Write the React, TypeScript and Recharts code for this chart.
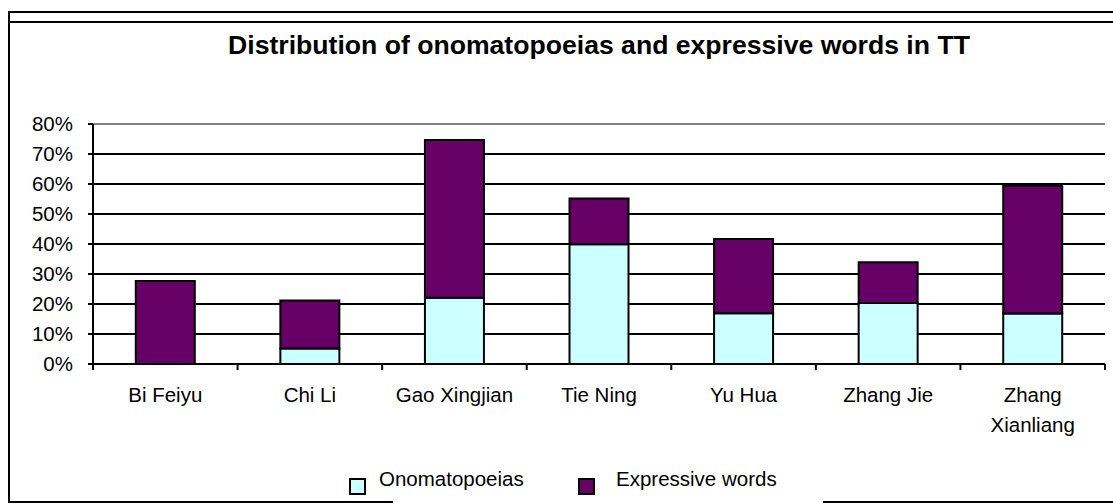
import React from "react";
import {
  BarChart,
  Bar,
  XAxis,
  YAxis,
  CartesianGrid,
  Legend,
  ReferenceLine,
} from "recharts";

const AUTHORS = [
  "Bi Feiyu",
  "Chi Li",
  "Gao Xingjian",
  "Tie Ning",
  "Yu Hua",
  "Zhang Jie",
  "Zhang Xianliang",
];
const ONOMATOPOEIAS = [0, 0.052, 0.221, 0.399, 0.169, 0.203, 0.168];
const EXPRESSIVE_WORDS = [0.277, 0.16, 0.526, 0.153, 0.248, 0.136, 0.426];
const Y_TICKS = [0, 0.1, 0.2, 0.3, 0.4, 0.5, 0.6, 0.7, 0.8];
const SERIES_NAMES = ["Onomatopoeias", "Expressive words"];

const CYAN = "#ccffff";
const PURPLE = "#660066";
const FONT = '"Liberation Sans", Arial, sans-serif';

const data = AUTHORS.map((author, i) => ({
  author,
  onomatopoeias: ONOMATOPOEIAS[i],
  expressive: EXPRESSIVE_WORDS[i],
}));

function CategoryTick(props: any) {
  const { x, y, payload, index } = props;
  const half = payload.offset ?? 72.3;
  const label = String(payload.value);
  const lines = label.length > 13 ? label.split(" ") : [label];
  const axisY = y - 23;
  return (
    <g>
      <line x1={x - half} x2={x - half} y1={axisY} y2={axisY + 6} stroke="#000" strokeWidth={2} />
      {index === AUTHORS.length - 1 && (
        <line x1={x + half} x2={x + half} y1={axisY} y2={axisY + 6} stroke="#000" strokeWidth={2} />
      )}
      <text x={x} y={y} textAnchor="middle" fontSize={20.5} fill="#000" fontFamily={FONT}>
        {lines.map((w, i) => (
          <tspan key={i} x={x} dy={i === 0 ? "0.72em" : 30}>
            {w}
          </tspan>
        ))}
      </text>
    </g>
  );
}

function renderLegend(props: any) {
  const items = [...(props.payload || [])].sort(
    (a: any, b: any) => SERIES_NAMES.indexOf(a.value) - SERIES_NAMES.indexOf(b.value)
  );
  const starts = [9, 238];
  return (
    <div style={{ position: "relative", width: 460, height: 40, fontFamily: FONT }}>
      {items.map((item: any, i: number) => (
        <div key={item.value} style={{ position: "absolute", left: starts[i], top: 0 }}>
          <div
            style={{
              position: "absolute",
              left: 0,
              top: 16,
              width: 13,
              height: 13,
              background: item.color,
              border: "2px solid #000",
            }}
          />
          <div
            style={{
              position: "absolute",
              left: i === 0 ? 30 : 38,
              top: 7,
              fontSize: 20.5,
              lineHeight: "20px",
              whiteSpace: "nowrap",
              color: "#000",
            }}
          >
            {item.value}
          </div>
        </div>
      ))}
    </div>
  );
}

const line = (style: React.CSSProperties) => (
  <div style={{ position: "absolute", background: "#000", ...style }} />
);

export default function App() {
  return (
    <div
      style={{
        position: "absolute",
        left: 0,
        top: 0,
        width: 1113,
        height: 504,
        overflow: "hidden",
        background: "#fff",
        fontFamily: FONT,
      }}
    >
      {line({ left: 8, top: 11, width: 1110, height: 2 })}
      {line({ left: 8, top: 21, width: 1110, height: 2 })}
      {line({ left: 8, top: 11, width: 2, height: 492 })}
      {line({ left: 8, top: 501, width: 385, height: 2 })}
      {line({ left: 823, top: 501, width: 300, height: 2 })}
      <div
        style={{
          position: "absolute",
          left: 0,
          top: 33,
          width: 1198,
          textAlign: "center",
          fontSize: 26.6,
          lineHeight: "25px",
          fontWeight: "bold",
          color: "#000",
        }}
      >
        Distribution of onomatopoeias and expressive words in TT
      </div>
      <div style={{ position: "absolute", left: 0, top: 0 }}>
        <BarChart
          width={1113}
          height={504}
          data={data}
          margin={{ top: 124, right: 8, bottom: 60, left: 33 }}
          barCategoryGap="29.6%"
        >
          <CartesianGrid vertical={false} stroke="#000" strokeWidth={2} />
          <XAxis
            dataKey="author"
            height={80}
            interval={0}
            tickLine={false}
            tickSize={5}
            tickMargin={18}
            axisLine={{ stroke: "#000", strokeWidth: 2 }}
            tick={<CategoryTick />}
          />
          <YAxis
            width={60}
            domain={[0, 0.8]}
            ticks={Y_TICKS}
            interval={0}
            tickSize={5}
            tickMargin={15}
            tickFormatter={(v: number) => `${Math.round(v * 100)}%`}
            tick={{ fill: "#000", fontSize: 20.5, fontFamily: FONT }}
            tickLine={{ stroke: "#000", strokeWidth: 2 }}
            axisLine={{ stroke: "#000", strokeWidth: 2 }}
          />
          <YAxis
            yAxisId="right"
            orientation="right"
            width={0}
            domain={[0, 0.8]}
            tick={false}
            tickLine={false}
            axisLine={{ stroke: "#808080", strokeWidth: 2 }}
          />
          <ReferenceLine y={0.8} stroke="#808080" strokeWidth={2} />
          <Legend
            verticalAlign="middle"
            align="center"
            layout="horizontal"
            wrapperStyle={{ left: 340, top: 462, width: 460, height: 40 }}
            content={renderLegend}
          />
          <Bar
            dataKey="onomatopoeias"
            name="Onomatopoeias"
            stackId="a"
            fill={CYAN}
            stroke="#000"
            strokeWidth={2}
            isAnimationActive={false}
          />
          <Bar
            dataKey="expressive"
            name="Expressive words"
            stackId="a"
            fill={PURPLE}
            stroke="#000"
            strokeWidth={2}
            isAnimationActive={false}
          />
        </BarChart>
      </div>
    </div>
  );
}
